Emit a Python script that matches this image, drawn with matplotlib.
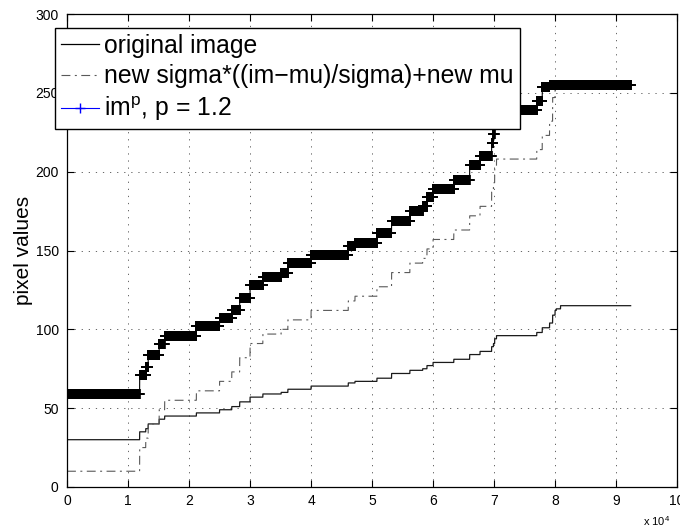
import numpy as np
import matplotlib
matplotlib.use('Agg')
import matplotlib.pyplot as plt
from matplotlib.lines import Line2D

plt.rcParams['font.family'] = ['Liberation Sans', 'DejaVu Sans']

# sorted image intensities: step start (pixel index) and level of each step
n_pixels = 92400
step_starts = [0, 11900, 12900, 13300, 15100, 16000, 21200, 25000, 27000, 28300,
               30000, 32100, 35100, 36200, 40000, 46100, 47200, 50800, 53200, 56200,
               58300, 59000, 60000, 63400, 66000, 67700, 69600, 69900, 70100, 70400,
               77000, 77900, 79100, 79600, 80000, 80200, 80900]
orig_levels = [30, 35, 37, 40, 43, 45, 47, 49, 51, 54, 57, 59, 60, 62, 64, 66, 67, 69,
               72, 74, 75, 77, 79, 81, 84, 86, 89, 91, 94, 96, 98, 101, 104, 109, 112,
               113, 115]
scaled_levels = [10, 25, 31, 40, 49, 55, 61, 67, 73, 82, 91, 97, 100, 106, 112, 118,
                 121, 127, 136, 142, 145, 151, 157, 163, 172, 178, 187, 193, 202, 208,
                 214, 223, 232, 247, 255, 255, 255]
power_levels = [59, 71, 76, 84, 91, 96, 102, 107, 112, 120, 128, 133, 136, 142, 147,
                153, 155, 161, 169, 175, 178, 184, 189, 195, 204, 210, 218, 224, 233,
                239, 245, 254, 255, 255, 255, 255, 255]
labels = ['original image',
          'new sigma*((im\u2212mu)/sigma)+new mu',
          'im$^{\\mathregular{p}}$, p = 1.2']

counts = np.diff(step_starts + [n_pixels])
idx = np.arange(1, n_pixels + 1)
orig = np.repeat(orig_levels, counts)
scaled = np.repeat(scaled_levels, counts)
power = np.repeat(power_levels, counts)

dashdot = (0, (8, 4, 1.8, 4))

fig = plt.figure(figsize=(6.8, 5.32), dpi=100)
ax = fig.add_axes([67 / 680, 45 / 532, 610 / 680, 473 / 532])

ax.plot(idx, orig, color='0.1', lw=0.9)
ax.plot(idx, scaled, color='0.35', lw=0.8, linestyle=dashdot)
ax.plot(idx, power, color='k', lw=0.8, marker='+', markersize=7,
        markeredgewidth=1.2, markevery=10)

ax.set_xlim(0, 100000)
ax.set_ylim(0, 300)
ax.set_xticks(range(0, 100001, 10000))
ax.set_xticklabels([str(i) for i in range(11)])
ax.set_yticks(range(0, 301, 50))
ax.tick_params(direction='in', top=True, right=True, length=5, width=0.8,
               labelsize=10)
ax.tick_params(axis='x', pad=5)
ax.tick_params(axis='y', pad=6)
ax.grid(True, color='0.3', linestyle=(0, (1.5, 7)), lw=0.6)
for s in ax.spines.values():
    s.set_linewidth(0.9)

ax.set_ylabel('pixel values', fontsize=15)
ax.yaxis.set_label_coords(-0.055, 0.5)

fig.text(643 / 680, 1 - 521 / 532, 'x 10$^{\\mathregular{4}}$', fontsize=8,
         ha='left', va='center')

handles = [Line2D([], [], color='k', lw=0.9),
           Line2D([], [], color='0.35', lw=0.8, linestyle=dashdot),
           Line2D([], [], color='b', lw=0.8, marker='+', markersize=7)]
leg = fig.legend(handles, labels, loc='upper left',
                 bbox_to_anchor=(55 / 680, 1 - 28 / 532), fontsize=17.8,
                 fancybox=False, edgecolor='k', framealpha=1,
                 handlelength=1.55, handletextpad=0.2, labelspacing=0.26,
                 borderpad=0.24, borderaxespad=0)
leg.get_frame().set_linewidth(1.0)

fig.savefig('out.png', dpi=100)
